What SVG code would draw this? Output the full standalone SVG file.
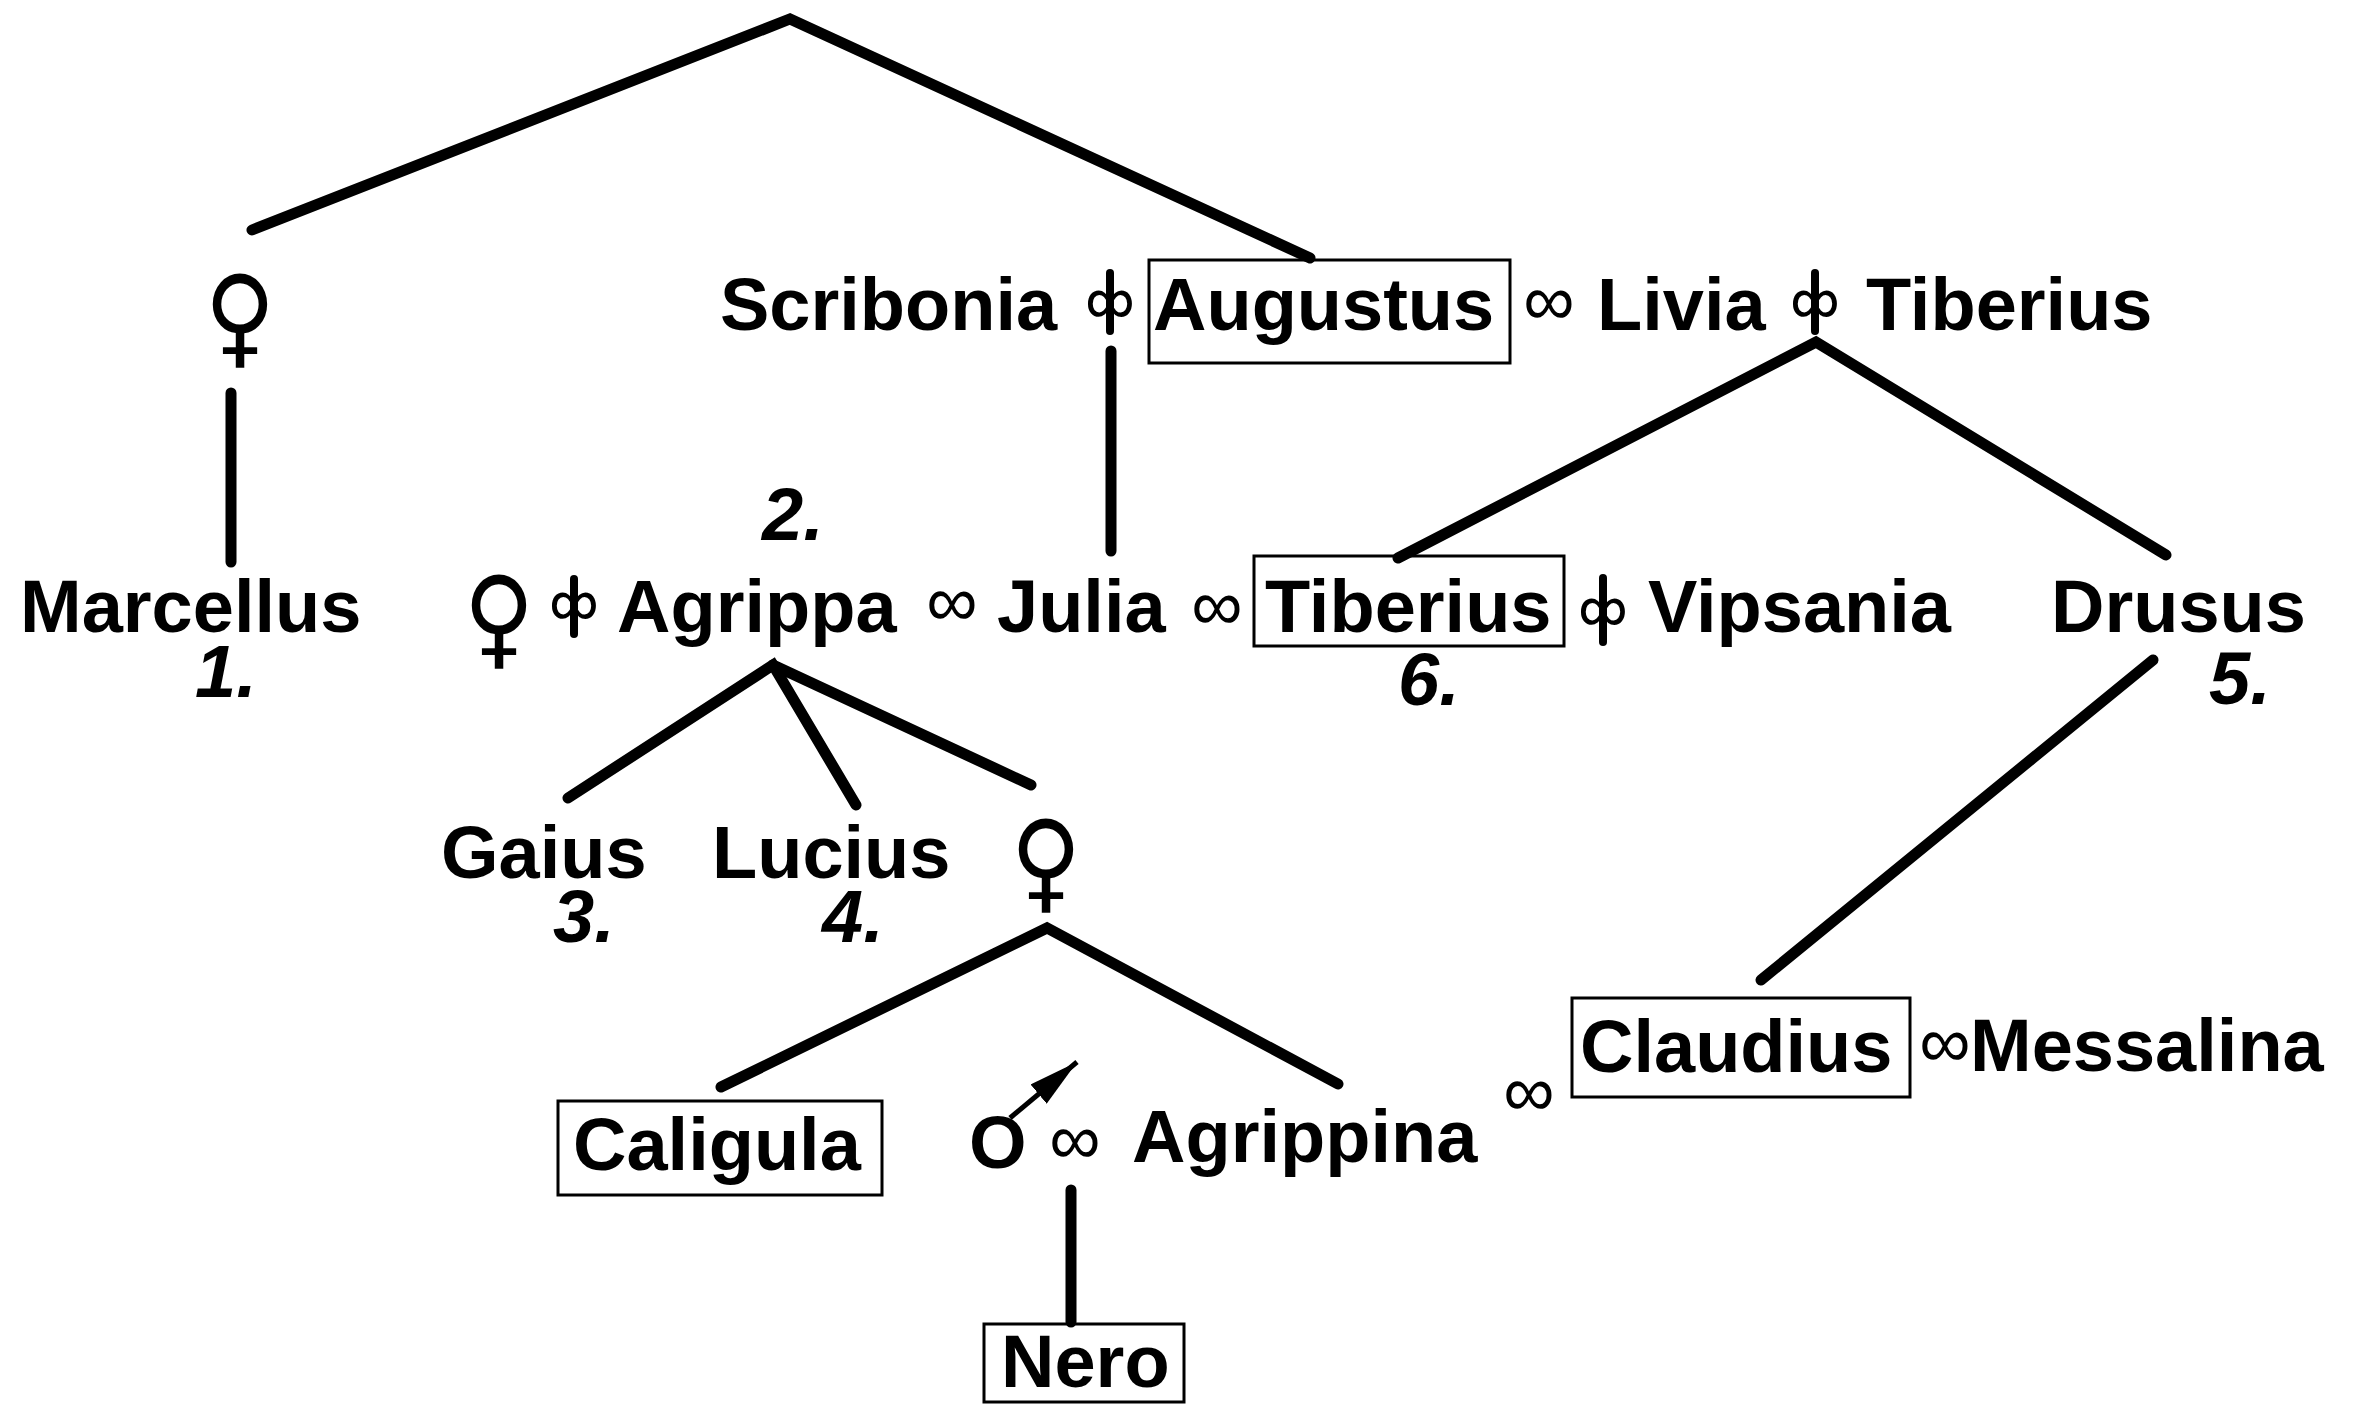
<svg xmlns="http://www.w3.org/2000/svg" width="2360" height="1428" viewBox="0 0 2360 1428">
<style>
.n{font-family:"Liberation Sans",Arial,sans-serif;font-weight:bold;font-size:74px;fill:#000}
.num{font-family:"Liberation Sans",Arial,sans-serif;font-weight:bold;font-style:italic;font-size:74px;fill:#000}
.inf{font-family:"Liberation Sans",Arial,sans-serif;font-size:72px;fill:#000;text-anchor:middle}
.dinf{font-family:"Liberation Sans",Arial,sans-serif;font-size:70px;fill:#000;text-anchor:middle}
.bar{stroke:#000;stroke-width:8;stroke-linecap:round}
.fem{font-family:"DejaVu Sans",sans-serif;font-weight:bold;font-size:110px;fill:#000;text-anchor:middle}
.box{fill:none;stroke:#000;stroke-width:3}
.ln{fill:none;stroke:#000;stroke-width:11;stroke-linecap:round;stroke-linejoin:miter}
</style>
<defs>
<marker id="ah" viewBox="0 0 20 10" refX="20" refY="5" markerWidth="10" markerHeight="5" markerUnits="strokeWidth" orient="auto"><path d="M0,0 L20,5 L0,10 z" fill="#000"/></marker>
</defs>
<rect width="2360" height="1428" fill="#fff"/>
<g id="connectors">
<polyline class="ln" points="252,230 790,19 1310,258"/>
<line class="ln" x1="231" y1="393" x2="231" y2="562"/>
<line class="ln" x1="1111" y1="351" x2="1111" y2="551"/>
<polyline class="ln" points="1398,558 1816,342 2166,555"/>
<line class="ln" x1="2153" y1="660" x2="1761" y2="980"/>
<polyline class="ln" points="568,798 773,665 856,805"/>
<line class="ln" x1="773" y1="665" x2="1031" y2="785"/>
<polyline class="ln" points="721,1087 1047,928 1338,1084"/>
<line class="ln" x1="1071" y1="1190" x2="1071" y2="1322"/>
</g>
<g id="fem1"><text class="fem" transform="translate(240,354) scale(0.88,1)">♀</text></g>
<g id="scribonia"><text class="n" x="720" y="330">Scribonia</text></g>
<g id="div1"><text class="dinf" x="1110" y="324">∞</text><line class="bar" x1="1110" y1="273" x2="1110" y2="331"/></g>
<g id="augustus"><rect class="box" x="1149" y="260" width="361" height="103"/><text class="n" x="1153" y="330">Augustus</text></g>
<g id="inf1"><text class="inf" x="1549" y="325">∞</text></g>
<g id="livia"><text class="n" x="1597" y="330">Livia</text></g>
<g id="div2"><text class="dinf" x="1815" y="324">∞</text><line class="bar" x1="1815" y1="273" x2="1815" y2="331"/></g>
<g id="tiberius-sr"><text class="n" x="1866" y="330">Tiberius</text></g>

<g id="marcellus"><text class="n" x="20" y="632">Marcellus</text><text class="num" x="195" y="697">1.</text></g>
<g id="fem2"><text class="fem" transform="translate(499,655) scale(0.88,1)">♀</text></g>
<g id="div3"><text class="dinf" x="574" y="626">∞</text><line class="bar" x1="574" y1="579" x2="574" y2="634"/></g>
<g id="agrippa"><text class="n" x="617" y="632">Agrippa</text><text class="num" x="762" y="540">2.</text></g>
<g id="inf2"><text class="inf" x="952" y="626">∞</text></g>
<g id="julia"><text class="n" x="997" y="632">Julia</text></g>
<g id="inf3"><text class="inf" x="1217" y="630">∞</text></g>
<g id="tiberius"><rect class="box" x="1254" y="556" width="310" height="90"/><text class="n" x="1265" y="632">Tiberius</text><text class="num" x="1398" y="705">6.</text></g>
<g id="div4"><text class="dinf" x="1603" y="632">∞</text><line class="bar" x1="1603" y1="578" x2="1603" y2="642"/></g>
<g id="vipsania"><text class="n" x="1648" y="632">Vipsania</text></g>
<g id="drusus"><text class="n" x="2051" y="632">Drusus</text><text class="num" x="2209" y="704">5.</text></g>

<g id="gaius"><text class="n" x="441" y="878">Gaius</text><text class="num" x="553" y="942">3.</text></g>
<g id="lucius"><text class="n" x="712" y="878">Lucius</text><text class="num" x="822" y="942">4.</text></g>
<g id="fem3"><text class="fem" transform="translate(1046,899) scale(0.88,1)">♀</text></g>

<g id="caligula"><rect class="box" x="558" y="1101" width="324" height="94"/><text class="n" x="573" y="1170">Caligula</text></g>
<g id="male"><text class="n" x="969" y="1168">O</text><line x1="1010" y1="1118" x2="1077" y2="1062" stroke="#000" stroke-width="5" marker-end="url(#ah)"/></g>
<g id="inf4"><text class="inf" x="1075" y="1164">∞</text></g>
<g id="agrippina"><text class="n" x="1132" y="1162">Agrippina</text></g>
<g id="inf5"><text class="inf" x="1529" y="1116">∞</text></g>
<g id="claudius"><rect class="box" x="1572" y="998" width="338" height="99"/><text class="n" x="1580" y="1072">Claudius</text></g>
<g id="inf6"><text class="inf" x="1945" y="1067">∞</text></g>
<g id="messalina"><text class="n" x="1970" y="1071">Messalina</text></g>

<g id="nero"><rect class="box" x="984" y="1324" width="200" height="78"/><text class="n" x="1001" y="1387">Nero</text></g>
</svg>
